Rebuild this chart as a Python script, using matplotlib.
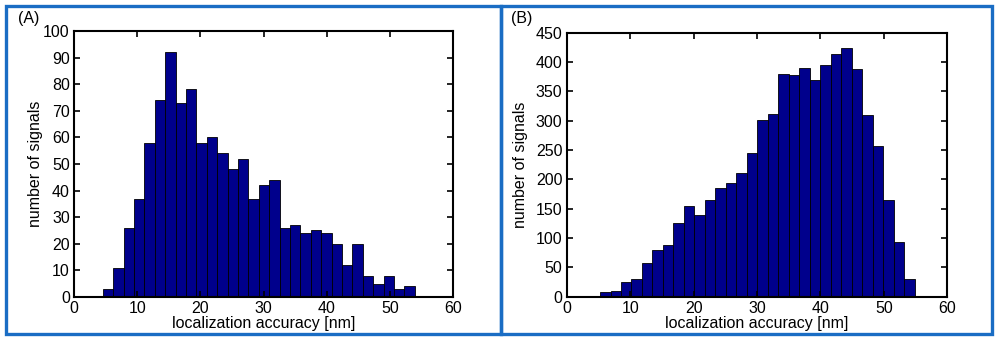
import numpy as np
import matplotlib.pyplot as plt
from matplotlib.patches import Rectangle

plt.rcParams['font.family'] = ['Liberation Sans', 'DejaVu Sans']
plt.rcParams['font.size'] = 11.5

# histogram counts (30 bins each)
counts_a = [3, 11, 26, 37, 58, 74, 92, 73, 78, 58, 60, 54, 48, 52, 37,
            42, 44, 26, 27, 24, 25, 24, 20, 12, 20, 8, 5, 8, 3, 4]
range_a = (4.55, 53.95)
counts_b = [8, 10, 25, 30, 57, 80, 88, 125, 155, 139, 164, 185, 193, 210, 245,
            301, 312, 380, 377, 390, 370, 395, 413, 424, 388, 310, 256, 165, 94, 30]
range_b = (5.25, 54.9)

xticks = [0, 10, 20, 30, 40, 50, 60]
yticks_a = list(range(0, 101, 10))
yticks_b = list(range(0, 451, 50))

xlabel = 'localization accuracy [nm]'
ylabel = 'number of signals'
bar_col = '#00008c'
frame_col = '#1a6dc4'

fig = plt.figure(figsize=(10, 3.42), dpi=100)

# blue frames around the two panels
fig.patches.append(Rectangle((0.006, 0.024), 0.495, 0.958, transform=fig.transFigure,
                             fill=False, edgecolor=frame_col, lw=2.4))
fig.patches.append(Rectangle((0.501, 0.024), 0.4905, 0.958, transform=fig.transFigure,
                             fill=False, edgecolor=frame_col, lw=2.4))

ax_a = fig.add_axes([0.074, 0.1316, 0.379, 0.778])
ax_b = fig.add_axes([0.5667, 0.1325, 0.3806, 0.772])

for ax, counts, rng, yt, lab, ylx in [(ax_a, counts_a, range_a, yticks_a, '(A)', -0.082),
                                      (ax_b, counts_b, range_b, yticks_b, '(B)', -0.102)]:
    edges = np.linspace(rng[0], rng[1], len(counts) + 1)
    ax.bar(edges[:-1], counts, width=np.diff(edges), align='edge',
           color=bar_col, edgecolor='black', linewidth=0.6)
    ax.set_xlim(0, 60)
    ax.set_ylim(yt[0], yt[-1])
    ax.set_xticks(xticks)
    ax.set_yticks(yt)
    ax.tick_params(direction='in', top=True, right=True, length=4, width=1.2, pad=3)
    for s in ax.spines.values():
        s.set_linewidth(1.5)
    ax.set_xlabel(xlabel, labelpad=0)
    ax.set_ylabel(ylabel)
    ax.yaxis.set_label_coords(ylx, 0.5)
    bb = ax.get_position()
    fig.text(bb.x0 - 0.056, 0.945, lab, va='center')

fig.savefig('out.png', dpi=100)
